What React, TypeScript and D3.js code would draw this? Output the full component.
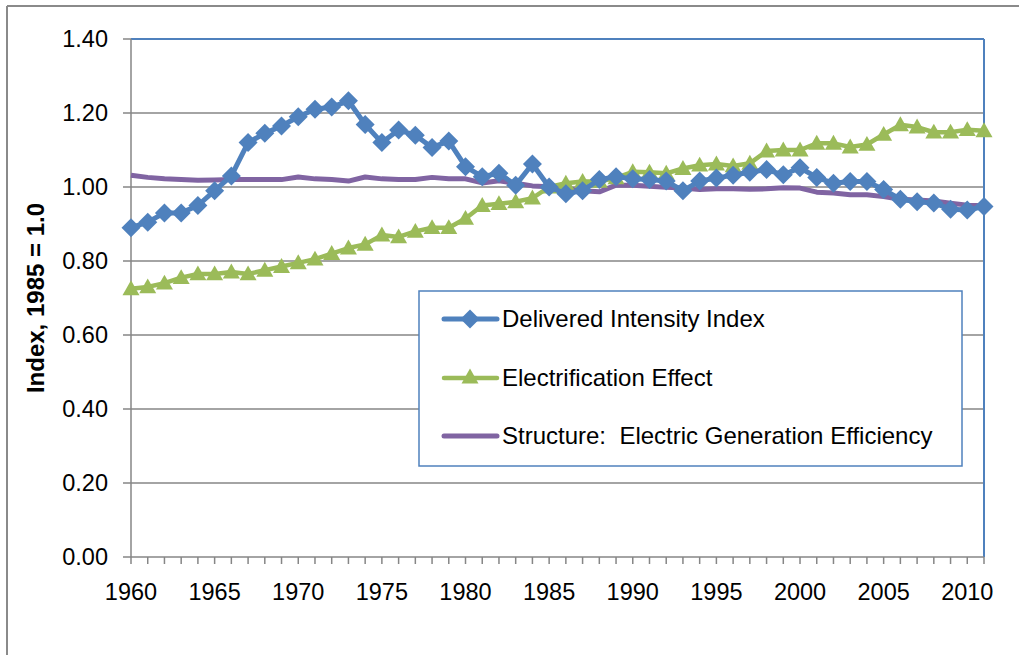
import React from "react";
import * as d3 from "d3";

const years: number[] = d3.range(1960, 2012);

const delivered: number[] = [
  0.89, 0.905, 0.93, 0.93, 0.95, 0.99, 1.03, 1.12, 1.145, 1.165,
  1.19, 1.21, 1.216, 1.233, 1.169, 1.12, 1.154, 1.14, 1.107, 1.124,
  1.055, 1.028, 1.037, 1.005, 1.062, 1.0, 0.982, 0.99, 1.02, 1.028,
  1.022, 1.02, 1.016, 0.99, 1.016, 1.024, 1.032, 1.04, 1.047, 1.033,
  1.052, 1.026, 1.01, 1.015, 1.015, 0.993, 0.967, 0.96, 0.957, 0.94,
  0.938, 0.947,
];

const electrification: number[] = [
  0.725, 0.73, 0.74, 0.755, 0.765, 0.765, 0.77, 0.765, 0.775, 0.785,
  0.795, 0.805, 0.82, 0.835, 0.845, 0.87, 0.865, 0.88, 0.89, 0.89,
  0.915, 0.95, 0.955, 0.96, 0.97, 1.0, 1.01, 1.015, 1.015, 1.025,
  1.041, 1.04, 1.037, 1.05, 1.059, 1.062, 1.057, 1.064, 1.097, 1.1,
  1.1, 1.118, 1.118, 1.108, 1.115, 1.142, 1.168, 1.162, 1.148, 1.148,
  1.155, 1.152,
];

const structure: number[] = [
  1.032, 1.026, 1.022, 1.02, 1.018, 1.019, 1.02, 1.02, 1.02, 1.02,
  1.027, 1.022, 1.02, 1.016, 1.027, 1.022, 1.02, 1.02, 1.026, 1.022,
  1.022, 1.011, 1.017, 1.01, 1.003, 1.001, 0.996, 0.99, 0.987, 1.005,
  1.005, 1.002, 0.999, 0.997, 0.993, 0.995, 0.995, 0.994, 0.995, 0.998,
  0.997, 0.986, 0.984, 0.979, 0.979, 0.974, 0.967, 0.965, 0.962, 0.956,
  0.951, 0.949,
];

const yTicks: number[] = [0, 0.2, 0.4, 0.6, 0.8, 1.0, 1.2, 1.4];
const xLabelYears: number[] = [1960, 1965, 1970, 1975, 1980, 1985, 1990, 1995, 2000, 2005, 2010];

const seriesNames: string[] = [
  "Delivered Intensity Index",
  "Electrification Effect",
  "Structure:  Electric Generation Efficiency",
];

const BLUE = "#4F81BD";
const GREEN = "#9BBB59";
const PURPLE = "#8064A2";
const GREY = "#868686";
const FONT = "'Liberation Sans', Arial, sans-serif";

const diamond = (cx: number, cy: number, r: number) =>
  `M${cx},${cy - r}L${cx + r},${cy}L${cx},${cy + r}L${cx - r},${cy}Z`;
const triangle = (cx: number, cy: number, r: number) =>
  `M${cx},${cy - r}L${cx + r},${cy + r * 0.75}L${cx - r},${cy + r * 0.75}Z`;

export default function App() {
  const left = 131, right = 984, top = 39, bottom = 557;
  const x = d3.scaleLinear().domain([1960, 2011]).range([left, right]);
  const y = d3.scaleLinear().domain([0, 1.4]).range([bottom, top]);

  const line = d3
    .line<number>()
    .x((_, i) => x(years[i]))
    .y((d) => y(d));

  const lgX = 419, lgY = 291, lgW = 543, lgH = 175;
  const rows = [319, 378, 436];

  return (
    <svg
      width={1019}
      height={655}
      style={{ position: "absolute", left: 0, top: 0, background: "#fff" }}
      fontFamily={FONT}
    >
      {/* outer chart border */}
      <line x1={7} y1={6} x2={1019} y2={6} stroke="#8a8a8a" strokeWidth={2} />
      <line x1={7} y1={6} x2={7} y2={655} stroke="#8a8a8a" strokeWidth={2} />

      {/* gridlines */}
      {yTicks.slice(1, -1).map((t) => (
        <line key={t} x1={left} x2={right} y1={y(t)} y2={y(t)} stroke={GREY} strokeWidth={1.5} />
      ))}
      {/* plot area border top/right */}
      <line x1={left} x2={right} y1={y(1.4)} y2={y(1.4)} stroke={BLUE} strokeWidth={2} />
      <line x1={right} x2={right} y1={top} y2={bottom} stroke={BLUE} strokeWidth={2} />

      {/* y axis */}
      <line x1={left} x2={left} y1={top} y2={bottom} stroke={GREY} strokeWidth={1.5} />
      {yTicks.map((t) => (
        <g key={t}>
          <line x1={left - 8} x2={left} y1={y(t)} y2={y(t)} stroke={GREY} strokeWidth={1.5} />
          <text x={108} y={y(t)} dy="0.35em" textAnchor="end" fontSize={23.5} fill="#000">
            {t.toFixed(2)}
          </text>
        </g>
      ))}

      {/* x axis */}
      <line x1={left} x2={right} y1={bottom} y2={bottom} stroke={GREY} strokeWidth={1.5} />
      {years.map((yr) => (
        <line key={yr} x1={x(yr)} x2={x(yr)} y1={bottom} y2={bottom + 7} stroke={GREY} strokeWidth={1.5} />
      ))}
      {xLabelYears.map((yr) => (
        <text key={yr} x={x(yr)} y={600} textAnchor="middle" fontSize={23.5} fill="#000">
          {yr}
        </text>
      ))}

      {/* y axis title */}
      <text
        transform={`translate(44,${(top + bottom) / 2}) rotate(-90)`}
        textAnchor="middle"
        fontSize={24}
        fontWeight="bold"
        fill="#000"
      >
        Index, 1985 = 1.0
      </text>

      {/* series */}
      <path d={line(structure) || ""} fill="none" stroke={PURPLE} strokeWidth={5} strokeLinejoin="round" />
      <path d={line(electrification) || ""} fill="none" stroke={GREEN} strokeWidth={4.5} strokeLinejoin="round" />
      {electrification.map((v, i) => (
        <path key={i} d={triangle(x(years[i]), y(v), 8.5)} fill={GREEN} />
      ))}
      <path d={line(delivered) || ""} fill="none" stroke={BLUE} strokeWidth={5} strokeLinejoin="round" />
      {delivered.map((v, i) => (
        <path key={i} d={diamond(x(years[i]), y(v), 9.5)} fill={BLUE} />
      ))}

      {/* legend */}
      <rect x={lgX} y={lgY} width={lgW} height={lgH} fill="#fff" stroke={BLUE} strokeWidth={1.5} />
      {[BLUE, GREEN, PURPLE].map((c, i) => (
        <g key={i}>
          <line x1={444} x2={497} y1={rows[i]} y2={rows[i]} stroke={c} strokeWidth={i === 1 ? 4.5 : 5} strokeLinecap="round" />
          {i === 0 && <path d={diamond(470, rows[i], 9.5)} fill={c} />}
          {i === 1 && <path d={triangle(470, rows[i] - 1, 8.5)} fill={c} />}
          <text
            x={502}
            y={rows[i]}
            dy="0.35em"
            fontSize={24}
            fill="#000"
            style={{ whiteSpace: "pre" }}
          >
            {seriesNames[i]}
          </text>
        </g>
      ))}
    </svg>
  );
}
